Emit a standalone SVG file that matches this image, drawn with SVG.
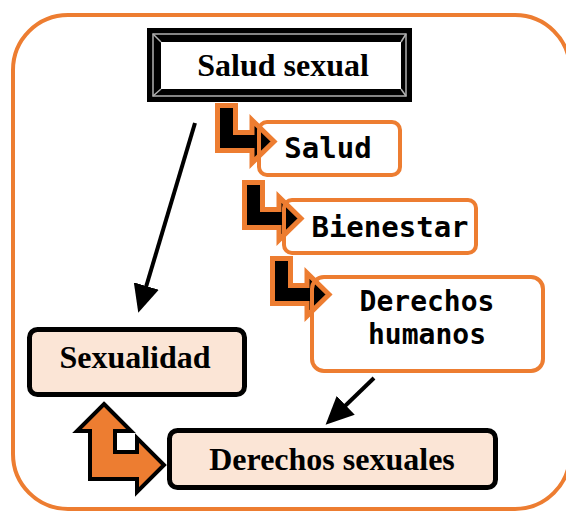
<svg xmlns="http://www.w3.org/2000/svg" xmlns:xlink="http://www.w3.org/1999/xlink" width="566" height="511" viewBox="0 0 566 511">
<style>
.frame{fill:#ffffff;stroke:#ED7D31;stroke-width:4}
.obox{fill:none;stroke:#ED7D31;stroke-width:4}
.pbox{fill:#FBE5D6;stroke:#000000;stroke-width:5}
.serif{font-family:"Liberation Serif","Times New Roman",serif;font-weight:bold;font-size:32px;fill:#000;text-anchor:middle}
.mono{font-family:"DejaVu Sans Mono","Liberation Mono",monospace;font-weight:bold;font-size:29px;fill:#000;text-anchor:middle}
.mono2{font-family:"DejaVu Sans Mono","Liberation Mono",monospace;font-weight:bold;font-size:28px;fill:#000;text-anchor:middle}
.elbow{fill:#000;stroke:#ED7D31;stroke-width:5;stroke-linejoin:miter}
.line{stroke:#000;stroke-width:4;fill:none}
.uturn{fill:#ED7D31;stroke:#000;stroke-width:4;stroke-linejoin:miter}
</style>
<defs>
<marker id="ah" viewBox="0 0 28 26" refX="1" refY="13" markerWidth="28" markerHeight="26" markerUnits="userSpaceOnUse" orient="auto">
<path d="M0,0 L28,13 L0,26 Z" fill="#000"/>
</marker>
<path id="bent" class="elbow" d="M217.5,105.5 H235.5 V132.5 H252 V120 L274,141.5 L252,163 V150.5 H217.5 Z"/>
</defs>
<rect class="frame" x="13" y="15" width="557" height="494" rx="55"/>
<g id="connectors">
<use xlink:href="#bent" href="#bent"/>
<use xlink:href="#bent" href="#bent" x="27" y="77"/>
<use xlink:href="#bent" href="#bent" x="55" y="153"/>
<line class="line" x1="195" y1="123" x2="146" y2="287" marker-end="url(#ah)"/>
<line class="line" x1="374" y1="378" x2="345" y2="406" marker-end="url(#ah)"/>
<path class="uturn" d="M104,404 L131,431 L115,431 L115,452 L137,452 L137,438 L164,465 L137,492 L137,479 L90,479 L90,431 L77,431 Z"/>
</g>
<g id="salud-sexual">
<rect x="147" y="28" width="265" height="74" fill="#000"/>
<rect x="153" y="34" width="253" height="62" fill="none" stroke="#b0b0b0" stroke-width="1.5"/>
<path d="M153,34 L161,42 M406,34 L401,42 M153,96 L161,89 M406,96 L401,89" stroke="#b0b0b0" stroke-width="1.5"/>
<rect x="161" y="42" width="240" height="47" fill="#fff"/>
<text class="serif" x="283" y="76">Salud sexual</text>
</g>
<g id="salud">
<rect class="obox" x="259" y="122" width="141" height="53" rx="8"/>
<text class="mono" x="328" y="158">Salud</text>
</g>
<g id="bienestar">
<rect class="obox" x="284" y="200" width="192" height="53" rx="8"/>
<text class="mono" x="390" y="237">Bienestar</text>
</g>
<g id="derechos-humanos">
<rect class="obox" x="312" y="277" width="231" height="94" rx="12"/>
<text class="mono2" x="427" y="311">Derechos</text>
<text class="mono2" x="427" y="344">humanos</text>
</g>
<g id="sexualidad">
<rect class="pbox" x="29.5" y="329.5" width="215" height="65" rx="8"/>
<text class="serif" x="135" y="368">Sexualidad</text>
</g>
<g id="derechos-sexuales">
<rect class="pbox" x="169.5" y="430.5" width="326" height="57" rx="8"/>
<text class="serif" x="332" y="470">Derechos sexuales</text>
</g>
</svg>
